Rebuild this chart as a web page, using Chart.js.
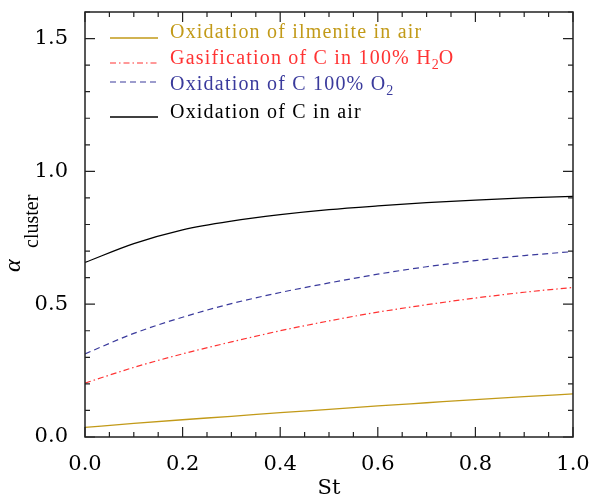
<!DOCTYPE html>
<html><head><meta charset="utf-8">
<script src="https://cdn.jsdelivr.net/npm/chart.js@4/dist/chart.umd.min.js"></script>
<style>html,body{margin:0;padding:0;background:#fff}#wrap{width:592px;height:501px}</style>
</head><body><div id="wrap"><canvas id="c" width="592" height="501"></canvas></div>
<script>
const stValues     = [0.0, 0.1, 0.2, 0.3, 0.4, 0.5, 0.6, 0.7, 0.8, 0.9, 1.0];
const ilmenite     = [0.036, 0.051, 0.065, 0.078, 0.092, 0.104, 0.117, 0.129, 0.141, 0.152, 0.162];
const gasification = [0.203, 0.262, 0.313, 0.358, 0.400, 0.437, 0.470, 0.498, 0.523, 0.545, 0.563];
const oxidationO2  = [0.313, 0.390, 0.451, 0.502, 0.544, 0.580, 0.613, 0.641, 0.664, 0.683, 0.698];
const oxidationAir = [0.657, 0.728, 0.780, 0.813, 0.837, 0.856, 0.870, 0.882, 0.892, 0.900, 0.906];
const xTickLabels  = ['0.0', '0.2', '0.4', '0.6', '0.8', '1.0'];
const yTickLabels  = ['0.0', '0.5', '1.0', '1.5'];
const xMinorStep = 0.05, yMinorStep = 0.1;
const xRange = [0, 1], yRange = [0, 1.6];

const colors = { ilm: '#c29a18', gas: '#ff3333', o2: '#3a3a9c', air: '#000000' };
const SERIF = '"Liberation Serif", "DejaVu Serif", serif';
const WIDE = '"DejaVu Serif", "Liberation Serif", serif';

function pts(ys) { return stValues.map((x, i) => ({ x: x, y: ys[i] })); }

const legendRows = [
  { parts: [['Oxidation of ilmenite in air', 0]], color: colors.ilm, dash: [], lineY: 38, textY: 38, width: 1.3 },
  { parts: [['Gasification of C in 100% H', 0], ['2', 1], ['O', 0]], color: colors.gas, dash: [6, 3, 1.5, 3], lineY: 63, textY: 64, width: 1.2 },
  { parts: [['Oxidation of C 100% O', 0], ['2', 1]], color: colors.o2, dash: [6, 4], lineY: 82, textY: 90, width: 1.2 },
  { parts: [['Oxidation of C in air', 0]], color: colors.air, dash: [], lineY: 117, textY: 118, width: 1.3 }
];

const framePlugin = {
  id: 'frame',
  afterDraw(chart) {
    const ctx = chart.ctx, a = chart.chartArea;
    const xs = chart.scales.x, ys = chart.scales.y;
    ctx.save();
    ctx.strokeStyle = '#222';
    ctx.lineWidth = 1.5;
    ctx.setLineDash([]);
    ctx.strokeRect(a.left, a.top, a.right - a.left, a.bottom - a.top);
    ctx.lineWidth = 1.2;
    const nx = Math.round((xRange[1] - xRange[0]) / xMinorStep);
    for (let i = 0; i <= nx; i++) {
      const v = xRange[0] + i * xMinorStep;
      const px = xs.getPixelForValue(v);
      const major = xTickLabels.some(t => Math.abs(parseFloat(t) - v) < 1e-6);
      const L = major ? 10 : 5;
      ctx.beginPath();
      ctx.moveTo(px, a.bottom); ctx.lineTo(px, a.bottom - L);
      ctx.moveTo(px, a.top); ctx.lineTo(px, a.top + L);
      ctx.stroke();
    }
    const ny = Math.round((yRange[1] - yRange[0]) / yMinorStep);
    for (let i = 0; i <= ny; i++) {
      const v = yRange[0] + i * yMinorStep;
      const py = ys.getPixelForValue(v);
      const major = yTickLabels.some(t => Math.abs(parseFloat(t) - v) < 1e-6);
      const L = major ? 10 : 5;
      ctx.beginPath();
      ctx.moveTo(a.left, py); ctx.lineTo(a.left + L, py);
      ctx.moveTo(a.right, py); ctx.lineTo(a.right - L, py);
      ctx.stroke();
    }
    // legend
    ctx.textBaseline = 'alphabetic';
    ctx.textAlign = 'left';
    legendRows.forEach(r => {
      ctx.strokeStyle = r.color;
      ctx.lineWidth = r.width;
      ctx.setLineDash(r.dash);
      ctx.beginPath();
      ctx.moveTo(110, r.lineY); ctx.lineTo(158, r.lineY);
      ctx.stroke();
      ctx.setLineDash([]);
      ctx.fillStyle = r.color;
      let x = 170;
      r.parts.forEach(([t, sub]) => {
        ctx.font = (sub ? 14 : 20) + 'px ' + SERIF;
        try { ctx.letterSpacing = sub ? '0px' : '1.2px'; } catch (e) {}
        ctx.fillText(t, x, r.textY + (sub ? 5 : 0));
        x += ctx.measureText(t).width;
      });
    });
    try { ctx.letterSpacing = '0px'; } catch (e) {}
    // y axis title
    ctx.fillStyle = '#000';
    ctx.translate(20, 272);
    ctx.rotate(-Math.PI / 2);
    ctx.font = 'italic 24px ' + SERIF;
    ctx.fillText('\u03B1', 0, 0);
    ctx.font = '20px ' + SERIF;
    ctx.fillText('cluster', 24, 18);
    ctx.restore();
  }
};

new Chart(document.getElementById('c'), {
  type: 'line',
  data: {
    datasets: [
      { label: 'Oxidation of ilmenite in air', data: pts(ilmenite), borderColor: colors.ilm, borderWidth: 1.3 },
      { label: 'Gasification of C in 100% H2O', data: pts(gasification), borderColor: colors.gas, borderWidth: 1.2, borderDash: [6, 3, 1.5, 3] },
      { label: 'Oxidation of C 100% O2', data: pts(oxidationO2), borderColor: colors.o2, borderWidth: 1.2, borderDash: [6, 4] },
      { label: 'Oxidation of C in air', data: pts(oxidationAir), borderColor: colors.air, borderWidth: 1.3 }
    ]
  },
  options: {
    responsive: false,
    animation: false,
    devicePixelRatio: 1,
    layout: { padding: { left: 0, right: 19, top: 12, bottom: 0 } },
    elements: { point: { radius: 0 }, line: { cubicInterpolationMode: 'monotone', fill: false } },
    plugins: { legend: { display: false }, tooltip: { enabled: false } },
    scales: {
      x: {
        type: 'linear', min: xRange[0], max: xRange[1],
        grid: { display: false }, border: { display: false },
        afterBuildTicks: s => { s.ticks = xTickLabels.map(t => ({ value: parseFloat(t) })); },
        ticks: { callback: v => v.toFixed(1), color: '#000', font: { family: WIDE, size: 21 }, padding: 7, maxRotation: 0, autoSkip: false },
        title: { display: true, text: 'St', color: '#000', font: { family: WIDE, size: 21 }, padding: { top: 0, bottom: 0 } },
        afterFit: s => { s.height = 64; s.paddingLeft = 0; s.paddingRight = 0; }
      },
      y: {
        type: 'linear', min: yRange[0], max: yRange[1],
        grid: { display: false }, border: { display: false },
        afterBuildTicks: s => { s.ticks = yTickLabels.map(t => ({ value: parseFloat(t) })); },
        ticks: { callback: v => v.toFixed(1), color: '#000', font: { family: WIDE, size: 21 }, padding: 9, autoSkip: false },
        afterFit: s => { s.width = 85; s.paddingTop = 0; s.paddingBottom = 0; }
      }
    }
  },
  plugins: [framePlugin]
});
</script>
</body></html>
